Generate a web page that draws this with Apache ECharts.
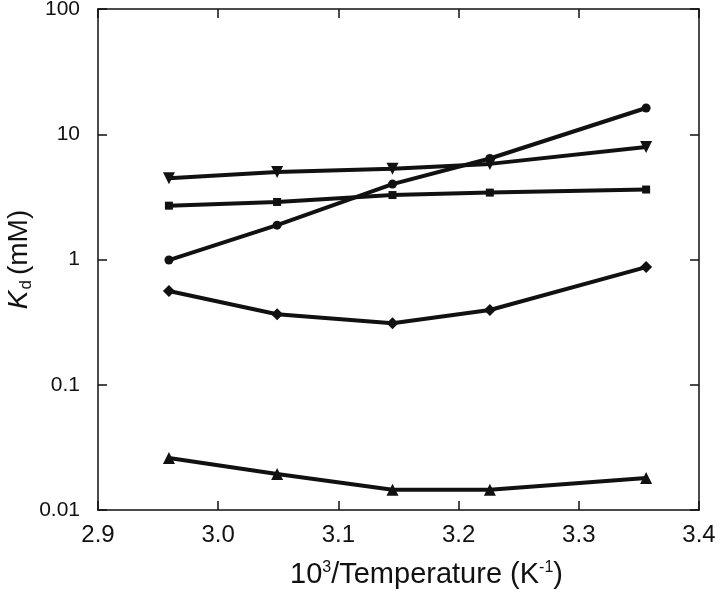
<!DOCTYPE html>
<html>
<head>
<meta charset="utf-8">
<script src="https://cdn.jsdelivr.net/npm/echarts@6/dist/echarts.min.js"></script>
<style>
  html, body { margin: 0; padding: 0; background: #fff; }
  #chart { width: 720px; height: 596px; }
</style>
</head>
<body>
<div id="chart"></div>
<script>
// 10^3 / T for the five temperatures
const invTemp = [2.959, 3.049, 3.145, 3.226, 3.356];

// Kd (mM), one array per marker shape
const kdCircle = [0.99, 1.88, 4.0, 6.4, 16.2];
const kdTriDown = [4.45, 5.0, 5.3, 5.8, 7.9];
const kdSquare = [2.69, 2.88, 3.27, 3.42, 3.62];
const kdDiamond = [0.56, 0.365, 0.31, 0.395, 0.87];
const kdTriUp = [0.026, 0.0194, 0.0145, 0.0145, 0.018];

const xTicks = [2.9, 3.0, 3.1, 3.2, 3.3, 3.4];
const yTicks = [0.01, 0.1, 1, 10, 100];

const FONT = '"Liberation Sans", Arial, sans-serif';
const INK = '#111';

const chart = echarts.init(document.getElementById('chart'));

function mkSeries(name, vals, symbol, size, rotate) {
  return {
    name,
    type: 'line',
    data: invTemp.map((x, i) => [x, vals[i]]),
    symbol,
    symbolSize: size,
    symbolRotate: rotate || 0,
    showAllSymbol: true,
    lineStyle: { color: INK, width: 4 },
    itemStyle: { color: INK },
    animation: false,
    z: 3,
  };
}

const xBase = {
  type: 'value',
  min: 2.9,
  max: 3.4,
  interval: 0.1,
  axisLine: { show: true, onZero: false, lineStyle: { color: INK, width: 1.5 } },
  axisTick: { show: true, inside: true, length: 9, lineStyle: { color: INK, width: 1.5 } },
  splitLine: { show: false },
};

const yBase = {
  type: 'log',
  logBase: 10,
  min: 0.01,
  max: 100,
  axisLine: { show: true, lineStyle: { color: INK, width: 1.5 } },
  axisTick: { show: true, inside: true, length: 9, lineStyle: { color: INK, width: 1.5 } },
  splitLine: { show: false },
  minorTick: { show: false },
};

chart.setOption({
  backgroundColor: '#fff',
  animation: false,
  grid: { left: 98, right: 21, top: 9, bottom: 86, containLabel: false, outerBoundsMode: 'none' },
  xAxis: [
    {
      ...xBase,
      position: 'bottom',
      axisLabel: {
        color: INK,
        fontFamily: FONT,
        fontSize: 24,
        margin: 13,
        formatter: (v) => {
          const t = xTicks.find((k) => Math.abs(k - v) < 1e-6);
          return t === undefined ? '' : t.toFixed(1);
        },
      },
      name: '10{sup|3}/Temperature (K{sup|-1})',
      nameLocation: 'middle',
      nameGap: 50,
      nameMoveOverlap: false,
      nameTextStyle: {
        color: INK,
        fontFamily: FONT,
        fontSize: 29,
        padding: [0, 0, 0, 56],
        rich: {
          sup: { fontSize: 16, fontFamily: FONT, color: INK, verticalAlign: 'top', lineHeight: 29 },
        },
      },
    },
    {
      ...xBase,
      position: 'top',
      axisLabel: { show: false },
    },
  ],
  yAxis: [
    {
      ...yBase,
      position: 'left',
      axisLabel: {
        color: INK,
        fontFamily: FONT,
        fontSize: 21,
        margin: 18,
        formatter: (v) => {
          const t = yTicks.find((k) => Math.abs(Math.log10(k) - Math.log10(v)) < 1e-6);
          return t === undefined ? '' : String(t);
        },
      },
      name: '{k|K}{d|d}(mM)',
      nameLocation: 'middle',
      nameRotate: 90,
      nameGap: 63,
      nameMoveOverlap: false,
      nameTextStyle: {
        color: INK,
        fontFamily: FONT,
        fontSize: 28,
        rich: {
          k: { fontSize: 28, fontFamily: FONT, fontStyle: 'italic', color: INK },
          d: { fontSize: 17, fontFamily: FONT, color: INK, verticalAlign: 'bottom', lineHeight: 32, padding: [0, 5, 0, 1] },
        },
      },
    },
    {
      ...yBase,
      position: 'right',
      axisLabel: { show: false },
    },
  ],
  series: [
    mkSeries('circle', kdCircle, 'circle', 9),
    mkSeries('triangle down', kdTriDown, 'triangle', 12, 180),
    mkSeries('square', kdSquare, 'rect', 8),
    mkSeries('diamond', kdDiamond, 'diamond', 12),
    mkSeries('triangle up', kdTriUp, 'triangle', 12),
  ],
});
</script>
</body>
</html>
